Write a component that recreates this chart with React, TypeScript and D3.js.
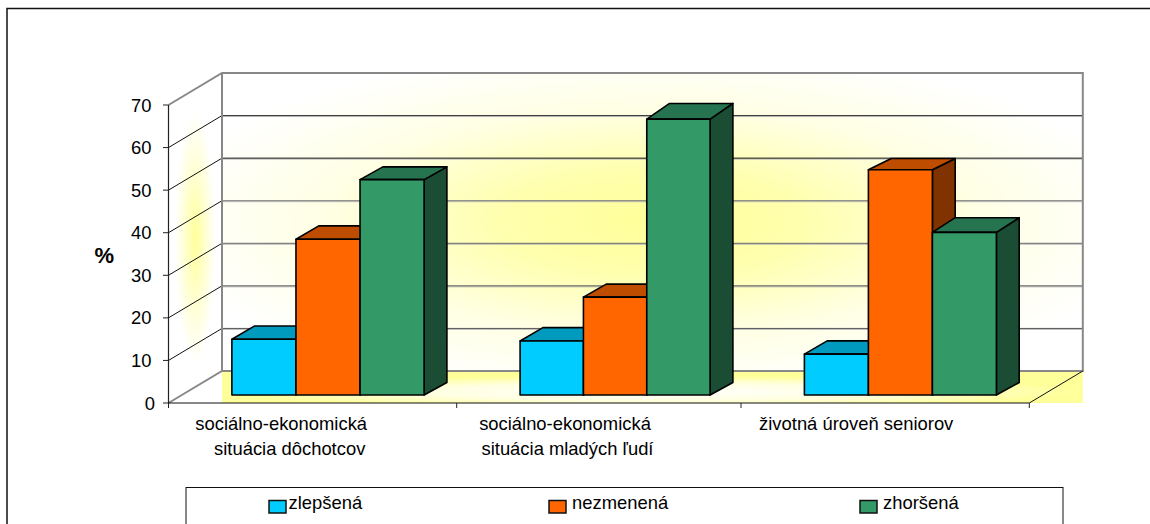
import React from "react";
import * as d3 from "d3";

const categories = ["g1", "g2", "g3"];
const categoryLines = [
  ["sociálno-ekonomická", "situácia dôchotcov"],
  ["sociálno-ekonomická", "situácia mladých ľudí"],
  ["životná úroveň seniorov"],
];
const labelOffsets = [[112.7, 121.2], [108.3, 110.8], [115.2]];
const seriesNames = ["zlepšená", "nezmenená", "zhoršená"];
const zlepsena = [13.1, 12.7, 9.6];
const nezmenena = [36.6, 23, 52.9];
const zhorsena = [50.6, 64.8, 38.2];
const seriesValues = [zlepsena, nezmenena, zhorsena];
const frontColors = ["#00CCFF", "#FF6600", "#339966"];
const topColors = ["#009ABF", "#BF4D00", "#267350"];
const sideColors = ["#006680", "#803300", "#1A4D33"];
const yTicks = [0, 10, 20, 30, 40, 50, 60, 70];
const gridColors = ["", "#555", "#555", "#666", "#777", "#111", "#333", ""];
const legendSwatchX = [269, 549, 860];
const legendTextX = [288.5, 572, 883];
const groupStarts = [168.5, 456.7, 741];
const groupWidths = [192.2, 190, 192];
const topDepths = [[13.3, 13.3, 12.7], [13.3, 13, 15.7], [13.3, 11.3, 14.7]];

const font = "'Liberation Sans', Arial, sans-serif";
const y = d3.scaleLinear().domain([0, 70]).range([403, 105]);
const x0 = d3.scaleOrdinal<string, number>().domain(categories).range(groupStarts);
const xL = 168.5;
const xR = 1029.3;
const wall = { dx: 53.5, dy: -32 };
const barDepth = 22.8;
const barSideDrop = 12.5;
const barLift = -8;
const barInset = 63.4;

function polygon(pts: [number, number][]) {
  return pts.map((p) => p.join(",")).join(" ");
}

export default function App() {
  const base = y(0);
  const top = y(70);
  return (
    <svg
      width={1150}
      height={524}
      style={{ position: "absolute", left: 0, top: 0, display: "block" }}
      fontFamily={font}
    >
      <defs>
        <radialGradient id="backGrad" cx="0.5" cy="0.5" r="0.58">
          <stop offset="0" stopColor="#FFFF99" />
          <stop offset="0.3" stopColor="#FFFFAE" />
          <stop offset="0.65" stopColor="#FFFFE4" />
          <stop offset="1" stopColor="#FFFFFF" />
        </radialGradient>
        <radialGradient id="leftGrad" cx="0.5" cy="0.5" r="0.38">
          <stop offset="0" stopColor="#FFFF99" />
          <stop offset="0.5" stopColor="#FFFFD0" />
          <stop offset="1" stopColor="#FFFFFF" />
        </radialGradient>
        <radialGradient id="floorGrad" cx="0.5" cy="0.65" r="0.5">
          <stop offset="0" stopColor="#FFFFFF" />
          <stop offset="0.55" stopColor="#FFFFE0" />
          <stop offset="1" stopColor="#FFFF99" />
        </radialGradient>
      </defs>

      <rect x={7} y={8.5} width={1200} height={600} fill="#fff" stroke="#111" strokeWidth={1.5} />

      <rect x={xL + wall.dx} y={base + wall.dy} width={xR - xL} height={32} fill="url(#floorGrad)" />
      <rect x={xL + wall.dx} y={top + wall.dy} width={xR - xL} height={base - top} fill="url(#backGrad)" />
      <polygon
        points={polygon([
          [xL, base],
          [xL, top],
          [xL + wall.dx, top + wall.dy],
          [xL + wall.dx, base + wall.dy],
        ])}
        fill="url(#leftGrad)"
      />

      {yTicks.slice(1, -1).map((t, i) => (
        <g key={t}>
          <line x1={xL + wall.dx} x2={xR + wall.dx} y1={y(t) + wall.dy + 1} y2={y(t) + wall.dy + 1} stroke="#bbb" strokeWidth={1} />
          <line x1={xL + wall.dx} x2={xR + wall.dx} y1={y(t) + wall.dy} y2={y(t) + wall.dy} stroke={gridColors[i + 1]} strokeWidth={1} />
          <line x1={xL} x2={xL + wall.dx} y1={y(t)} y2={y(t) + wall.dy} stroke="#111" strokeWidth={1} />
        </g>
      ))}

      <polyline
        points={polygon([
          [xL, top],
          [xL + wall.dx, top + wall.dy],
          [xR + wall.dx, top + wall.dy],
          [xR + wall.dx, base + wall.dy],
          [xL + wall.dx, base + wall.dy],
          [xL, base],
        ])}
        fill="none"
        stroke="#888"
        strokeWidth={2}
      />
      <line x1={xL + wall.dx} x2={xL + wall.dx} y1={top + wall.dy} y2={base + wall.dy} stroke="#888" strokeWidth={2} />

      {categories.map((c, gi) => {
        const x1 = d3.scaleBand<number>().domain([0, 1, 2]).range([barInset, barInset + groupWidths[gi]]);
        return seriesValues.map((vals, si) => {
          const xa = x0(c) + x1(si)!;
          const xb = xa + x1.bandwidth();
          const yb = y(0) + barLift;
          const yt = y(vals[gi]) + barLift;
          const dy = topDepths[gi][si];
          return (
            <g key={c + si} stroke="#000" strokeWidth={1.6} strokeLinejoin="round">
              <polygon points={polygon([[xb, yb], [xb, yt], [xb + barDepth, yt - dy], [xb + barDepth, yb - barSideDrop]])} fill={sideColors[si]} />
              <polygon points={polygon([[xa, yt], [xa + barDepth, yt - dy], [xb + barDepth, yt - dy], [xb, yt]])} fill={topColors[si]} />
              <rect x={xa} y={yt} width={xb - xa} height={yb - yt} fill={frontColors[si]} />
            </g>
          );
        });
      })}

      <line x1={xL} x2={xL} y1={top} y2={base} stroke="#222" strokeWidth={1.2} />
      <line x1={xL} x2={xR} y1={base} y2={base} stroke="#111" strokeWidth={1.2} />
      <line x1={xR} x2={xR + wall.dx} y1={base} y2={base + wall.dy} stroke="#111" strokeWidth={1} />
      {yTicks.map((t) => (
        <g key={t}>
          <line x1={xL - 5.5} x2={xL} y1={y(t)} y2={y(t)} stroke="#222" strokeWidth={1} />
          <text x={t === 0 ? 155 : 151.5} y={y(t) + 6.5} textAnchor="end" fontSize={18.4} fill="#000">{t}</text>
        </g>
      ))}
      {[...categories.map((c) => x0(c)), xR].map((tx) => (
        <line key={tx} x1={tx} x2={tx} y1={base} y2={base + 5} stroke="#222" strokeWidth={1} />
      ))}

      {categories.map((c, gi) =>
        categoryLines[gi].map((line, li) => (
          <text
            key={c + li}
            x={x0(c) + labelOffsets[gi][li]}
            y={429.5 + li * 25}
            textAnchor="middle"
            fontSize={18.4}
            fill="#000"
          >
            {line}
          </text>
        ))
      )}

      <text x={94.5} y={263} fontSize={22} fontWeight="bold" fill="#000">%</text>

      <rect x={186} y={487.5} width={877} height={60} fill="#fff" stroke="#111" strokeWidth={1} />
      {seriesNames.map((s, i) => (
        <g key={s}>
          <rect x={legendSwatchX[i]} y={500.5} width={17} height={12.5} fill={frontColors[i]} stroke="#111" strokeWidth={1.5} />
          <text x={legendTextX[i]} y={509} fontSize={18.4} fill="#000">{s}</text>
        </g>
      ))}
    </svg>
  );
}
